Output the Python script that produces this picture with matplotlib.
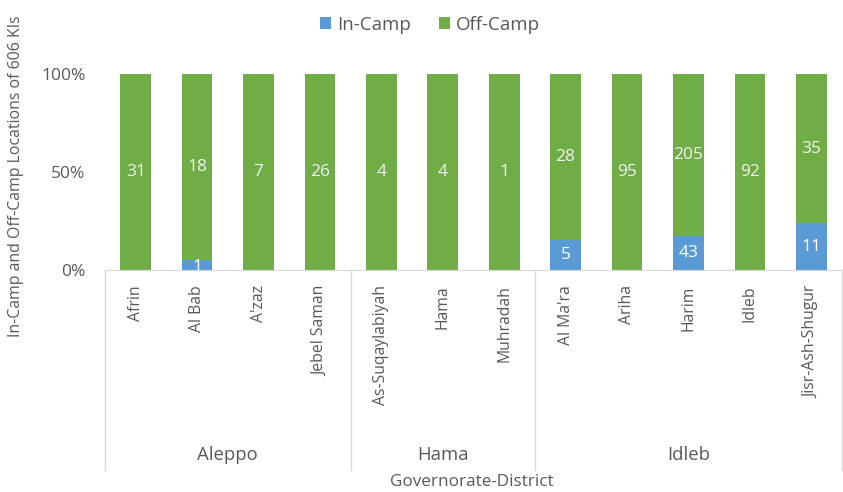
import matplotlib
matplotlib.use("Agg")
import matplotlib.pyplot as plt
import numpy as np

plt.rcParams['font.family'] = ['Open Sans', 'DejaVu Sans']

districts = ["Afrin", "Al Bab", "A'zaz", "Jebel Saman", "As-Suqaylabiyah", "Hama",
             "Muhradah", "Al Ma'ra", "Ariha", "Harim", "Idleb", "Jisr-Ash-Shugur"]
governorates = ["Aleppo", "Hama", "Idleb"]
gov_counts = [4, 3, 5]
in_camp = [0, 1, 0, 0, 0, 0, 0, 5, 0, 43, 0, 11]
off_camp = [31, 18, 7, 26, 4, 4, 1, 28, 95, 205, 92, 35]
yticks = [0, 0.5, 1.0]
ytick_labels = ["0%", "50%", "100%"]

blue = "#5B9BD5"
green = "#70AD47"
gray = "#595959"
linec = "#D9D9D9"

fig = plt.figure(figsize=(8.43, 4.92), dpi=100)
ax = fig.add_axes([105/843, 1-270/492, (842-105)/843, (270-74)/492])

inc = np.array(in_camp, float)
off = np.array(off_camp, float)
tot = inc + off
pin = inc / tot
poff = off / tot
x = np.arange(len(districts))
w = 0.5
b1 = ax.bar(x, pin, w, color=blue, label="In-Camp")
b2 = ax.bar(x, poff, w, bottom=pin, color=green, label="Off-Camp")

for i in range(len(x)):
    if inc[i] > 0:
        ax.text(x[i], pin[i]/2 if pin[i] > 0.08 else pin[i]/2 - 0.01, f"{int(inc[i])}",
                ha='center', va='center', color='white', fontsize=12.5)
    if off[i] > 0:
        ax.text(x[i], pin[i] + poff[i]/2, f"{int(off[i])}",
                ha='center', va='center', color='#F2F2F2', fontsize=12.5)

ax.set_xlim(-0.5, len(x)-0.5)
ax.set_ylim(0, 1)
ax.set_yticks(yticks)
ax.set_yticklabels(ytick_labels, color=gray, fontsize=12.5)
ax.set_xticks(x)
ax.set_xticklabels(districts, rotation=90, color=gray, fontsize=11.3, va='top')
ax.tick_params(axis='x', length=0, pad=11)
ax.tick_params(axis='y', length=0, pad=14)
for s in ['top', 'right', 'left']:
    ax.spines[s].set_visible(False)
ax.spines['bottom'].set_color(linec)

# group separators
bottom_y = -(470-270)/196
bounds = [-0.5]
for c in gov_counts:
    bounds.append(bounds[-1] + c)
for bx in bounds:
    ax.plot([bx, bx], [0, bottom_y], color=linec, lw=1, clip_on=False,
            transform=ax.get_xaxis_transform())
for i, g in enumerate(governorates):
    cx = (bounds[i] + bounds[i+1]) / 2
    ax.text(cx, -(455-270)/196, g, ha='center', va='center', color=gray, fontsize=13.3,
            transform=ax.get_xaxis_transform())

fig.text(472/843, 1-482/492, "Governorate-District", ha='center', va='center', color=gray, fontsize=12.3)
fig.text(16/843, 1-176/492, "In-Camp and Off-Camp Locations of 606 KIs", rotation=90,
         ha='center', va='center', color=gray, fontsize=11.4)

fig.legend(handles=[b1, b2], labels=["In-Camp", "Off-Camp"], loc='center',
           bbox_to_anchor=(430/843, 1-25/492), ncol=2, frameon=False, fontsize=13.5,
           labelcolor=gray, handlelength=0.6, handleheight=0.6, handletextpad=0.3,
           columnspacing=1.5)

fig.savefig("out.png", dpi=100)
